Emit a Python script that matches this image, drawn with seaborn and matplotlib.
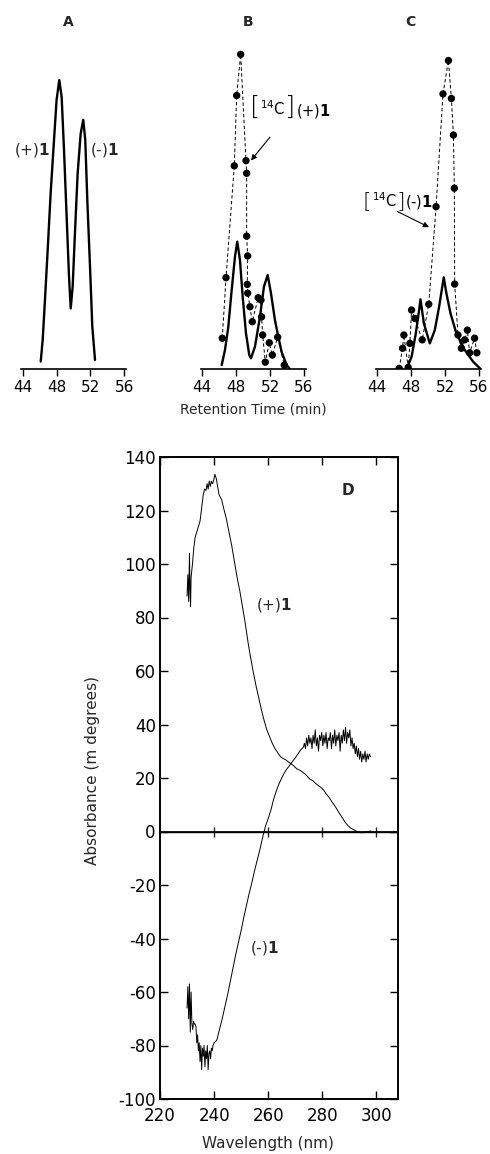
import matplotlib
matplotlib.use('Agg')
import matplotlib.pyplot as plt
import seaborn as sns
from matplotlib.offsetbox import TextArea, HPacker, AnnotationBbox

###############################################################################
# Data
###############################################################################
# Panel A - UV trace, racemic 1
a_time = [46.13, 46.36, 46.63, 46.95, 47.3, 47.7, 48.0, 48.32, 48.6, 48.88,
          49.19, 49.47, 49.67, 49.9, 50.17, 50.49, 50.85, 51.15, 51.39,
          51.63, 51.95, 52.22, 52.54]
a_signal = [2.3, 9, 21.3, 36.7, 54.2, 70.7, 83, 89.2, 84, 67.6, 47, 28.5,
            18.7, 25.4, 41.9, 60.4, 72.7, 76.9, 70.7, 52.2, 31.6, 13.1, 2.8]

# Panel B - UV trace + [14C] fractions, (+)1
b_time = [46.29, 46.68, 47.07, 47.47, 47.86, 48.13, 48.45, 48.77, 49.16,
          49.55, 49.75, 50.22, 50.81, 51.28, 51.72, 52.11, 52.58, 52.97,
          53.37, 53.96, 54.35]
b_signal = [1.2, 5.9, 13, 24.4, 34.7, 39.3, 33.6, 22.3, 11, 4.3, 3.3, 6.9,
            16.1, 25.4, 29, 23.4, 15.1, 10, 5.3, 1.2, 0]
b_frac_time = [46.36, 46.8, 47.78, 48.06, 48.53, 49.16, 49.24, 49.24, 49.36,
               49.31, 49.36, 49.63, 49.9, 50.6, 50.93, 51.0, 51.13, 51.44,
               51.91, 52.27, 52.9, 53.68]
b_frac_counts = [9.5, 28.2, 62.7, 84.4, 97.1, 64.3, 60.4, 41, 34.9, 26.1,
                 23.4, 19.2, 14.6, 22.0, 21.3, 16.1, 10.5, 2.1, 8.1, 4.3,
                 9.8, 1.2]

# Panel C - UV trace + [14C] fractions, (-)1
c_time = [47.46, 48.05, 48.55, 48.94, 49.1, 49.5, 50.2, 50.79, 51.3,
          51.85, 52.16, 52.64, 53.34, 54.32, 55.3, 56.2]
c_signal = [0, 3.8, 11, 18.2, 21.5, 14.1, 7.9, 12, 19.2, 28.3, 23.4, 17.2,
            11, 5.9, 2.3, 0]
c_frac_time = [46.59, 46.98, 47.14, 47.65, 47.85, 48.05, 48.44, 49.3,
               50.08, 50.94, 51.76, 52.4, 52.75, 52.99, 53.1, 53.14, 53.53,
               53.93, 54.32, 54.64, 54.9, 55.49, 55.76]
c_frac_counts = [0.2, 6.4, 10.5, 0.5, 7.9, 18.2, 15.6, 9, 20, 50.1, 84.9,
                 95.2, 83.5, 72.2, 55.8, 26.2, 10.5, 6.4, 9, 12, 5, 9.5, 5]

rt_ticks = [44, 48, 52, 56]

# Panel D - CD spectra
wl_plus = [230.0, 230.3, 230.6, 230.9, 231.1, 231.3, 231.5, 232.0, 232.5,
           233.0, 233.6, 234.2, 234.8, 235.4, 236.0, 236.5, 237.0, 237.4,
           237.8, 238.2, 238.6, 239.0, 239.4, 239.8, 240.3, 240.8, 241.3,
           241.8, 242.3, 242.8, 243.5, 244.5, 245.5, 246.5, 247.5, 248.5,
           249.5, 250.5, 251.5, 252.5, 253.5, 254.5, 255.5, 256.5, 257.5,
           258.5, 259.5, 260.5, 261.5, 262.5, 263.5, 264.5, 265.5, 266.5,
           267.5, 268.5, 269.5, 270.5, 271.5, 272.5, 273.5, 274.5, 275.5,
           276.5, 277.5, 278.5, 279.5, 280.5, 281.5, 282.5, 283.5, 284.5,
           285.5, 286.5, 287.5, 288.5, 289.5, 290.5, 291.5, 292.5, 293.5,
           294.5, 295.5, 296.5, 297.5, 298.0]
cd_plus = [88, 96, 86, 104, 90, 84, 95, 100, 106, 110, 112, 114, 116, 121,
           126, 128, 127.5, 130, 128, 131, 129, 131, 130, 131, 133.5, 132,
           129, 126, 125, 124, 121, 117, 112, 107, 101, 95, 90, 84, 78, 71,
           65, 59.5, 54.5, 50, 45.5, 41.5, 38, 35.5, 33, 31, 29.5, 28, 27.3,
           26.8, 26, 25.3, 24.5, 23.5, 23, 22.4, 21.6, 20.6, 19.5, 19, 18,
           17.2, 16.5, 15.5, 14, 12.8, 11.2, 9.8, 8.2, 6.5, 5, 3.4, 2.2, 1.3,
           0.7, 0.2, -0.2, -0.5, -0.3, -0.2, 0.1, 0.2]

# (-)1 spectrum: noisy start, main slope, noisy plateau
wl_minus_start = [230.0, 230.3, 230.6, 230.9, 231.2, 231.5, 231.8, 232.1,
                  232.4, 232.7, 233.0, 233.3, 233.6, 233.9, 234.2, 234.5,
                  234.8, 235.1, 235.4, 235.7, 236.0, 236.3, 236.6, 236.9,
                  237.2, 237.5, 237.8, 238.1, 238.4, 238.7, 239.0, 239.3,
                  239.6]
cd_minus_start = [-66, -58, -70, -57, -75, -60, -72, -74, -71, -72, -72, -73,
                  -79, -76, -82, -79, -86, -80, -89, -81, -84, -80, -88, -82,
                  -85, -80, -89, -83, -82, -85, -81, -82, -80]
wl_minus_slope = [240, 241, 242, 243, 244, 245, 246, 247, 248, 249, 250, 251,
                  252, 253, 254, 255, 256, 257, 258, 259, 260, 261, 262, 263,
                  264, 265, 266, 267, 268, 269, 270, 271, 272, 273]
cd_minus_slope = [-79, -78, -74, -70, -65.5, -61, -56, -51, -46, -41.5, -37,
                  -32, -27.5, -23, -19, -14.5, -10.5, -6.5, -2, 2, 4.8, 8, 12,
                  15.2, 17.8, 20, 22, 23.5, 24.8, 26.2, 27.5, 29, 30.5, 31.5]
wl_minus_plateau = [273.4, 273.8, 274.2, 274.6, 275.0, 275.4, 275.8, 276.2,
                    276.6, 277.0, 277.4, 277.8, 278.2, 278.6, 279.0, 279.4,
                    279.8, 280.2, 280.6, 281.0, 281.4, 281.8, 282.2, 282.6,
                    283.0, 283.4, 283.8, 284.2, 284.6, 285.0, 285.4, 285.8,
                    286.2, 286.6, 287.0, 287.4, 287.8, 288.2, 288.6, 289.0,
                    289.4, 289.8, 290.2, 290.6, 291.0, 291.4, 291.8, 292.2,
                    292.6, 293.0, 293.4, 293.8, 294.2, 294.6, 295.0, 295.4,
                    295.8, 296.2, 296.6, 297.0, 297.4, 297.8]
cd_minus_plateau = [33, 31, 35, 32, 36, 33, 35, 31, 36, 33, 38, 32, 35, 30,
                    36, 34, 37, 32, 36, 33, 37, 31, 35, 34, 37, 31, 36, 33,
                    38, 32, 36, 34, 37, 30, 36, 33, 38, 34, 39, 33, 37, 35,
                    38, 32, 35, 31, 33, 29, 32, 28, 31, 27, 30, 26, 29, 27,
                    30, 26, 29, 27, 29, 28]
wl_minus = wl_minus_start + wl_minus_slope + wl_minus_plateau
cd_minus = cd_minus_start + cd_minus_slope + cd_minus_plateau

wl_ticks = [220, 240, 260, 280, 300]
abs_ticks = list(range(-100, 141, 20))

###############################################################################
# Style
###############################################################################
sns.set_theme(style='ticks')
plt.rcParams['font.family'] = ['DejaVu Sans']
plt.rcParams['axes.unicode_minus'] = False
plt.rcParams['axes.edgecolor'] = 'black'

W, H = 490, 1154
fig = plt.figure(figsize=(W / 100, H / 100), dpi=100)
fig.patch.set_facecolor('white')

rt_lim = (43.8, 56.2)
dash = (0, (3.5, 2.5))


def trace_axes(left_px):
    ax = fig.add_axes([left_px / W, 1 - 369 / H, 105 / W, 324 / H])
    ax.set_xlim(*rt_lim)
    ax.set_ylim(0, 100)
    for s in ['left', 'right', 'top']:
        ax.spines[s].set_visible(False)
    ax.spines['bottom'].set_linewidth(1.2)
    ax.set_yticks([])
    ax.set_xticks(rt_ticks)
    ax.tick_params(axis='x', direction='out', length=5, width=1,
                   labelsize=11, pad=3, colors='black')
    ax.patch.set_alpha(0)
    return ax


def label_14c(ax, x, y, sign, bracket_size=18):
    # [14C](sign)1 with tall square brackets, packed side by side
    br = dict(fontsize=bracket_size, fontweight='light', color='black')
    txt = dict(fontsize=10.5, color='black')
    parts = [TextArea('[', textprops=br),
             TextArea(r'${}^{14}\mathrm{C}$', textprops=txt),
             TextArea(']', textprops=br),
             TextArea('(%s)' % sign + r'$\mathbf{1}$', textprops=txt)]
    box = HPacker(children=parts, align='baseline', pad=0, sep=0)
    ab = AnnotationBbox(box, (x, y), xycoords='data', box_alignment=(0, 0.5),
                        frameon=False, annotation_clip=False)
    ax.add_artist(ab)


###############################################################################
# Panel A
###############################################################################
ax_a = trace_axes(21)
sns.lineplot(x=a_time, y=a_signal, ax=ax_a, color='black', lw=1.7,
             sort=False, estimator=None)
ax_a.text(45.16, 67.6, r'(+)$\mathbf{1}$', fontsize=11, ha='center',
          va='center')
ax_a.text(53.6, 67.6, r'(-)$\mathbf{1}$', fontsize=11, ha='center',
          va='center')
ax_a.text(49.35, 107, 'A', fontsize=10, fontweight='bold', ha='center',
          va='center')

###############################################################################
# Panel B
###############################################################################
ax_b = trace_axes(200.6)
sns.lineplot(x=b_frac_time, y=b_frac_counts, ax=ax_b, color='black', lw=0.7,
             sort=False, estimator=None, linestyle=dash)
sns.scatterplot(x=b_frac_time, y=b_frac_counts, ax=ax_b, color='black',
                s=28, edgecolor='none', zorder=3)
sns.lineplot(x=b_time, y=b_signal, ax=ax_b, color='black', lw=1.7,
             sort=False, estimator=None)
label_14c(ax_b, 49.63, 80.7, '+', bracket_size=19)
ax_b.annotate('', xy=(49.55, 63.7), xytext=(52.19, 72.2),
              arrowprops=dict(arrowstyle='-|>', color='black', lw=0.8,
                              mutation_scale=8))
ax_b.text(49.4, 107, 'B', fontsize=10, fontweight='bold', ha='center',
          va='center')
ax_b.set_xlabel('Retention Time (min)', fontsize=10, labelpad=5)

###############################################################################
# Panel C
###############################################################################
ax_c = trace_axes(375.6)
sns.lineplot(x=c_frac_time, y=c_frac_counts, ax=ax_c, color='black', lw=0.7,
             sort=False, estimator=None, linestyle=dash)
sns.scatterplot(x=c_frac_time, y=c_frac_counts, ax=ax_c, color='black',
                s=28, edgecolor='none', zorder=3)
sns.lineplot(x=c_time, y=c_signal, ax=ax_c, color='black', lw=1.7,
             sort=False, estimator=None)
label_14c(ax_c, 42.3, 51.9, '-', bracket_size=16)
ax_c.annotate('', xy=(50.4, 43.4), xytext=(46.08, 49.0),
              arrowprops=dict(arrowstyle='-|>', color='black', lw=0.8,
                              mutation_scale=8))
ax_c.text(47.85, 107, 'C', fontsize=10, fontweight='bold', ha='center',
          va='center')

###############################################################################
# Panel D
###############################################################################
ax_d = fig.add_axes([160 / W, 1 - 1099 / H, 238 / W, 642 / H])
sns.lineplot(x=wl_plus, y=cd_plus, ax=ax_d, color='black', lw=0.7,
             sort=False, estimator=None)
sns.lineplot(x=wl_minus, y=cd_minus, ax=ax_d, color='black', lw=0.7,
             sort=False, estimator=None)
ax_d.set_xlim(220, 308)
ax_d.set_ylim(-100, 140)
ax_d.set_xticks(wl_ticks)
ax_d.set_yticks(abs_ticks)
for s in ax_d.spines.values():
    s.set_linewidth(1.4)
    s.set_color('black')
ax_d.tick_params(direction='in', length=6, width=1, labelsize=12,
                 top=True, right=True, colors='black')
ax_d.tick_params(axis='x', pad=6)
ax_d.tick_params(axis='y', pad=3)
ax_d.axhline(0, color='black', lw=1.0)
zero_frac = (0 - ax_d.get_ylim()[0]) / (ax_d.get_ylim()[1] - ax_d.get_ylim()[0])
zero_axis = ax_d.secondary_xaxis(zero_frac)
zero_axis.set_xticks(wl_ticks[1:])
zero_axis.tick_params(direction='inout', length=7, width=1,
                      labelbottom=False, labeltop=False)
ax_d.text(262.3, 84.7, r'(+)$\mathbf{1}$', fontsize=11, ha='center',
          va='center')
ax_d.text(258.6, -43.5, r'(-)$\mathbf{1}$', fontsize=11, ha='center',
          va='center')
ax_d.text(289.5, 127.4, 'D', fontsize=11, fontweight='bold', ha='center',
          va='center')
ax_d.set_xlabel('Wavelength (nm)', fontsize=11)
ax_d.xaxis.set_label_coords(0.454, -0.058)
ax_d.set_ylabel('Absorbance (m degrees)', fontsize=11)
ax_d.yaxis.set_label_coords(-0.25, 0.512)

fig.savefig('out.png', dpi=100, facecolor='white')
